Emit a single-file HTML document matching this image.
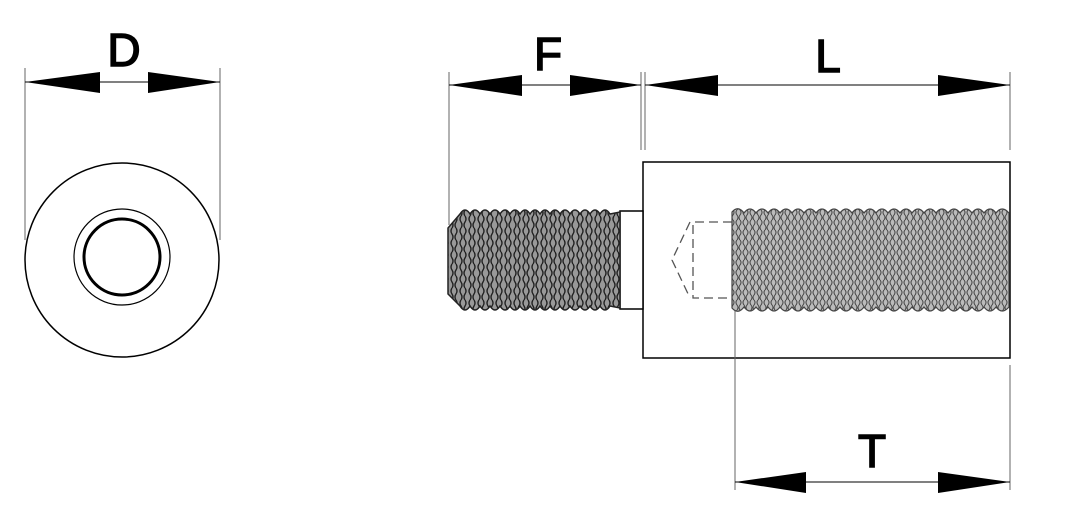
<!DOCTYPE html>
<html><head><style>html,body{margin:0;padding:0;background:#fff}svg{display:block}</style></head>
<body>
<svg width="1071" height="531" viewBox="0 0 1071 531" xmlns="http://www.w3.org/2000/svg" font-family="Liberation Sans, sans-serif">
<defs>
<pattern id="thr" width="9" height="12" patternUnits="userSpaceOnUse">
<rect width="9" height="12" fill="#999"/>
<path d="M2 0 Q0 3 2 6 Q4 9 2 12 M6 0 Q8 3 6 6 Q4 9 6 12" stroke="#222" stroke-width="1.4" fill="none"/>
</pattern>
<pattern id="thr2" width="7" height="10" patternUnits="userSpaceOnUse">
<rect width="7" height="10" fill="#bbb"/>
<path d="M2 0 Q0 2.5 2 5 Q4 7.5 2 10 M5 0 Q7 2.5 5 5 Q3 7.5 5 10" stroke="#444" stroke-width="1" fill="none"/>
</pattern>
</defs>
<g stroke="#000" fill="none">
<line x1="25" y1="68" x2="25" y2="240" stroke="#666"/>
<line x1="220" y1="68" x2="220" y2="240" stroke="#666"/>
<line x1="25" y1="82" x2="220" y2="82" stroke-width="1"/>
<circle cx="122" cy="260" r="97" stroke-width="1.5"/>
<circle cx="122" cy="257" r="48" stroke-width="1.2"/>
<circle cx="122" cy="257" r="38" stroke-width="3"/>
<line x1="449" y1="72" x2="449" y2="225" stroke="#666"/>
<line x1="641" y1="72" x2="641" y2="150" stroke="#666"/>
<line x1="645" y1="72" x2="645" y2="150" stroke="#666"/>
<line x1="1010" y1="72" x2="1010" y2="150" stroke="#666"/>
<line x1="449" y1="85" x2="641" y2="85"/>
<line x1="645" y1="85" x2="1010" y2="85"/>
<rect x="643" y="162" width="367" height="196" stroke-width="1.5"/>
<rect x="620" y="211" width="23" height="98" stroke-width="1.5" fill="#fff"/>
<line x1="735" y1="308" x2="735" y2="490" stroke="#666"/>
<line x1="1010" y1="365" x2="1010" y2="490" stroke="#666"/>
<line x1="735" y1="482" x2="1010" y2="482"/>
<path d="M732 222 H693 V298 H732 M690 222 L672 260 L690 298" stroke="#555" stroke-dasharray="9 5" stroke-width="1.3"/>
</g>
<path d="M460 214 Q465 206 470 214 Q475 206 480 214 Q485 206 490 214 Q495 206 500 214 Q505 206 510 214 Q515 206 520 214 Q525 206 530 214 Q535 206 540 214 Q545 206 550 214 Q555 206 560 214 Q565 206 570 214 Q575 206 580 214 Q585 206 590 214 Q595 206 600 214 Q605 206 610 214 L620 212 V308 L610 306 Q605 314 600 306 Q595 314 590 306 Q585 314 580 306 Q575 314 570 306 Q565 314 560 306 Q555 314 550 306 Q545 314 540 306 Q535 314 530 306 Q525 314 520 306 Q515 314 510 306 Q505 314 500 306 Q495 314 490 306 Q485 314 480 306 Q475 314 470 306 Q465 314 460 306 L448 294 V228 Z" fill="url(#thr)" stroke="#222" stroke-width="1.5"/>
<path d="M732 212 Q738 205 744 213 Q750 205 756 213 Q762 205 768 213 Q774 205 780 213 Q786 205 792 213 Q798 205 804 213 Q810 205 816 213 Q822 205 828 213 Q834 205 840 213 Q846 205 852 213 Q858 205 864 213 Q870 205 876 213 Q882 205 888 213 Q894 205 900 213 Q906 205 912 213 Q918 205 924 213 Q930 205 936 213 Q942 205 948 213 Q954 205 960 213 Q966 205 972 213 Q978 205 984 213 Q990 205 996 213 Q1002 205 1009 213 V307 Q1002 315 996 307 Q990 315 984 307 Q978 315 972 307 Q966 315 960 307 Q954 315 948 307 Q942 315 936 307 Q930 315 924 307 Q918 315 912 307 Q906 315 900 307 Q894 315 888 307 Q882 315 876 307 Q870 315 864 307 Q858 315 852 307 Q846 315 840 307 Q834 315 828 307 Q822 315 816 307 Q810 315 804 307 Q798 315 792 307 Q786 315 780 307 Q774 315 768 307 Q762 315 756 307 Q750 315 744 307 Q738 315 732 308 Z" fill="url(#thr2)" stroke="#444" stroke-width="1.2"/>
<g fill="#000">
<polygon points="25,82 100,72 100,93"/>
<polygon points="220,82 148,72 148,93"/>
<polygon points="449,85 522,75 522,96"/>
<polygon points="641,85 570,75 570,96"/>
<polygon points="645,85 718,75 718,96"/>
<polygon points="1010,85 938,75 938,96"/>
<polygon points="735,482 806,472 806,493"/>
<polygon points="1010,482 938,472 938,493"/>
</g>
<g font-size="46" text-anchor="middle" fill="#000" stroke="#000" stroke-width="1.5">
<text x="124" y="66">D</text>
<text x="548" y="70">F</text>
<text x="828" y="72">L</text>
<text x="872" y="467">T</text>
</g>
</svg>
</body></html>
